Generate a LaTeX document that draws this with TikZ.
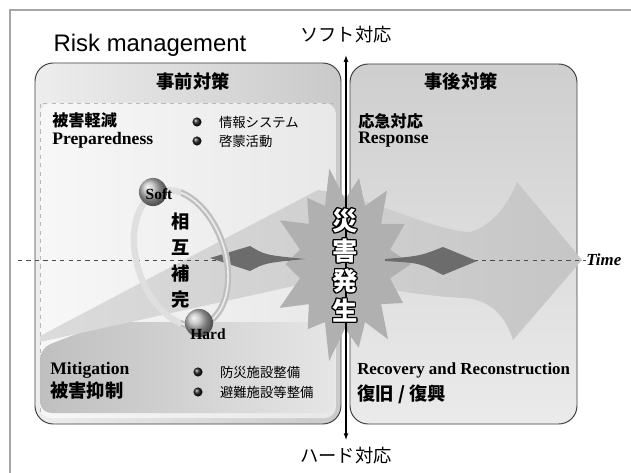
\documentclass[tikz,border=0pt]{standalone}
\usepackage{fontspec}
\setmainfont{Liberation Serif}
\setsansfont{Liberation Sans}
\newfontfamily\jpfont{Noto Sans CJK JP}
\usepackage{contour}
\contourlength{0.7pt}
\usetikzlibrary{positioning,arrows.meta}

\tikzset{
  jp/.style={font=\jpfont\fontsize{#1}{#1}\selectfont},
  jpbold/.style={font=\jpfont\bfseries\fontsize{#1}{#1}\selectfont},
  en/.style={font=\bfseries\fontsize{#1}{#1}\selectfont},
  frameline/.style={draw=gray!70,line width=0.9pt},
  panel/.style={draw=black!75,line width=0.7pt,rounded corners=13pt},
  sheetedge/.style={draw=gray!55,dashed,line width=0.4pt},
  plate/.style={rounded corners=8pt,left color=gray!50,right color=gray!20},
  bigarrow/.style={left color=gray!28,right color=gray!45},
  burst/.style={fill=gray!62},
  darkarrow/.style={fill=gray!85!black},
  timeaxis/.style={draw=gray!60!black,dashed,line width=0.5pt},
  vaxis/.style={<->,draw=black,line width=0.9pt,>={Latex[length=5pt,width=3.5pt]}},
  ring/.style={draw=gray!#1,line width=4.5pt},
  ball/.style={circle,minimum size=#1,ball color=gray!55},
  dot/.style={circle,minimum size=6.5pt,ball color=gray!25!black},
  tag/.style={font=\bfseries\fontsize{11}{11}\selectfont},
}

\begin{document}
\begin{tikzpicture}[x=0.025cm,y=-0.025cm,>=Latex,every node/.style={inner sep=0pt}]
  \useasboundingbox (0,0) rectangle (631,473);
  % page frame
  \draw[frameline] (10,473) -- (10,10) -- (631,10);
  \node[font=\sffamily\fontsize{17}{17}\selectfont] (title) at (150,45) {Risk management};

  % before / after panels
  \shade[panel,left color=gray!14,right color=gray!42] (35,63) rectangle (341,424);
  \shade[panel,top color=gray!38,bottom color=gray!16] (350,64) rectangle (577,424);
  \node[jpbold=13] (before) at (193,81) {事前対策};
  \node[jpbold=13] (after) at (461,82) {事後対策};

  % light sheet and mitigation plate inside the left panel
  \shade[rounded corners=8pt,left color=gray!6,right color=gray!18] (40,103) rectangle (336,418);
  \draw[sheetedge] (40,412) -- (40,103) -- (336,103);
  \shade[plate] (40,348) -- (108,322) -- (334,322) -- (334,413) -- (40,413) -- cycle;

  % big sweeping arrow along the time line
  \shade[bigarrow] (40,336) -- (228,237) -- (318,190)
    .. controls (380,200) and (430,230) .. (470,232)
    .. controls (495,225) and (510,200) .. (517,182)
    -- (582,260) -- (513,340)
    .. controls (505,315) and (490,300) .. (465,298)
    .. controls (420,296) and (380,288) .. (330,278)
    -- (40,342) -- cycle;

  % time axis
  \node[font=\bfseries\itshape\fontsize{12}{12}\selectfont,anchor=west] (time) at (586,260) {Time};
  \coordinate (origin) at (18,260);
  \draw[timeaxis] (origin) -- (time.west);

  % starburst
  \coordinate (burst) at (345,264);
  \fill[burst,shift={(burst)}] (0:66 and 92)
    \foreach \i [evaluate=\i as \r using {isodd(\i) ? 0.7 : 1+0.1*sin(\i*97)}] in {1,...,27}
      { -- ({\i*360/28}:{66*\r} and {92*\r}) } -- cycle;

  % dark arrows on both sides of the burst
  \fill[darkarrow] (210,258) -- (250,246) .. controls (265,255) .. (305,259)
    .. controls (265,263) .. (250,271) -- cycle;
  \fill[darkarrow] (385,259) .. controls (420,256) .. (443,247) -- (477,261)
    -- (443,275) .. controls (420,263) .. (385,261) -- cycle;

  % soft / hard ring, faint on the left, strong on the right
  \coordinate (ringc) at (181,258);
  \draw[ring=25] (ringc) ellipse [x radius=44,y radius=70,rotate=18];
  \begin{scope}
    \clip (181,150) rectangle (260,345);
    \draw[ring=50] (ringc) ellipse [x radius=44,y radius=70,rotate=18];
    \draw[white!85!gray,line width=1.2pt] (ringc) ellipse [x radius=44,y radius=70,rotate=18];
  \end{scope}
  \node[ball=20pt] (softball) at (153,192) {};
  \node[ball=20pt] (hardball) at (199,323) {};
  \node[tag] (soft) at (159,194) {Soft};
  \node[tag] (hard) at (208,334) {Hard};
  \node[align=center,font=\jpfont\bfseries\fontsize{13}{18.5}\selectfont] (mutual) at (181,261)
    {相\\互\\補\\完};

  % soft / hard axis
  \node[jp=13] (softside) at (346,35) {ソフト対応};
  \node[jp=13] (hardside) at (346,456) {ハード対応};
  \draw[vaxis] ([yshift=-8pt]softside.south) -- ([yshift=5pt]hardside.north);
  \node[align=center,text=white,font=\jpfont\bfseries\fontsize{18}{21.3}\selectfont] (onset) at (345,266)
    {\contour{black}{災}\\\contour{black}{害}\\\contour{black}{発}\\\contour{black}{生}};

  % preparedness
  \node[jpbold=11.5,anchor=west] (prepjp) at (52,120) {被害軽減};
  \node[en=12.5,anchor=west] (prep) at (52,140) {Preparedness};
  \node[dot] (d1) at (197,122) {};
  \node[dot] (d2) at (197,141) {};
  \node[jp=9.5,right=12pt of d1] (info) {情報システム};
  \node[jp=9.5,right=12pt of d2] (educ) {啓蒙活動};

  % response
  \node[jpbold=11.5,anchor=west] (respjp) at (358,121) {応急対応};
  \node[en=12.5,anchor=west] (resp) at (358,140) {Response};

  % mitigation
  \node[en=12.5,anchor=west] (miti) at (50,370) {Mitigation};
  \node[jpbold=13,anchor=west] (mitijp) at (50,391) {被害抑制};
  \node[dot] (d3) at (198,372) {};
  \node[dot] (d4) at (198,392) {};
  \node[jp=9.5,right=12pt of d3] (works) {防災施設整備};
  \node[jp=9.5,right=12pt of d4] (shelter) {避難施設等整備};

  % recovery
  \node[en=12,anchor=west] (recov) at (357,370) {Recovery and Reconstruction};
  \node[jpbold=13,anchor=west] (recovjp) at (357,394) {復旧 / 復興};
\end{tikzpicture}
\end{document}
